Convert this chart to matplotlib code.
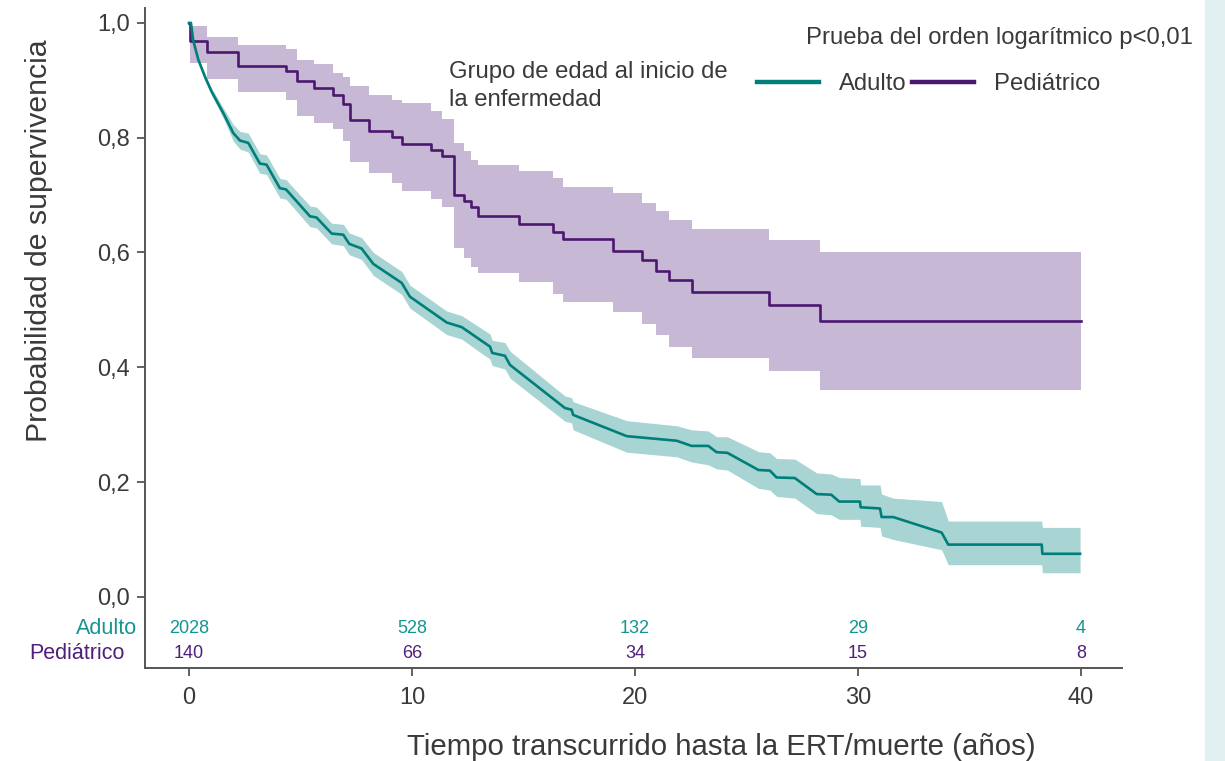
import matplotlib
matplotlib.use('Agg')
import matplotlib.pyplot as plt
from matplotlib.lines import Line2D
from matplotlib.patches import Rectangle
from matplotlib.ticker import FuncFormatter

plt.rcParams['font.family'] = ['Liberation Sans', 'DejaVu Sans']

# Curva pediátrica (Kaplan-Meier, escalones) con IC
ped_t = [0.0, 0.05, 0.8, 2.2, 4.35, 4.86, 5.6, 6.47, 6.92, 7.22, 8.07, 9.1, 9.54,
         10.84, 11.37, 11.9, 12.35, 12.63, 12.95, 14.8, 16.34, 16.79, 19.03,
         20.33, 20.94, 21.54, 22.58, 26.0, 28.3, 40.0]
ped_s = [1.0, 0.969, 0.949, 0.925, 0.917, 0.899, 0.887, 0.875, 0.859, 0.831, 0.812,
         0.801, 0.789, 0.779, 0.768, 0.701, 0.690, 0.679, 0.664, 0.650, 0.635,
         0.624, 0.603, 0.587, 0.567, 0.552, 0.532, 0.509, 0.480, 0.480]
ped_up = [1.0, 0.994, 0.976, 0.962, 0.954, 0.935, 0.929, 0.913, 0.906, 0.890, 0.875,
          0.866, 0.860, 0.846, 0.833, 0.790, 0.776, 0.761, 0.753, 0.742, 0.729,
          0.714, 0.703, 0.687, 0.672, 0.656, 0.641, 0.621, 0.600, 0.600]
ped_lo = [1.0, 0.930, 0.902, 0.880, 0.865, 0.838, 0.826, 0.815, 0.795, 0.758, 0.738,
          0.721, 0.707, 0.694, 0.680, 0.608, 0.590, 0.575, 0.564, 0.548, 0.528,
          0.514, 0.497, 0.476, 0.456, 0.436, 0.416, 0.393, 0.361, 0.361]

# Curva adulta con IC
adu_t = [0.0, 0.09, 0.19, 0.42, 0.72, 1.02, 1.54, 1.99, 2.29, 2.66, 3.18, 3.48, 4.08,
         4.35, 5.43, 5.72, 6.40, 6.92, 7.19, 7.74, 8.27, 9.54, 9.91, 11.56, 12.23,
         13.50, 13.60, 14.17, 14.40, 16.86, 17.16, 17.23, 19.63, 21.87, 22.54,
         23.29, 23.66, 24.14, 25.54, 26.05, 26.35, 27.17, 28.15, 28.80, 29.16,
         30.09, 30.12, 30.99, 31.06, 31.58, 33.75, 34.05, 38.24, 38.27, 39.96]
adu_s = [1.0, 1.0, 0.970, 0.936, 0.906, 0.880, 0.843, 0.808, 0.795, 0.791, 0.755,
         0.753, 0.712, 0.710, 0.663, 0.661, 0.633, 0.631, 0.615, 0.607, 0.580,
         0.547, 0.523, 0.478, 0.470, 0.436, 0.425, 0.420, 0.404, 0.329, 0.326,
         0.317, 0.280, 0.272, 0.263, 0.263, 0.252, 0.251, 0.221, 0.220, 0.208,
         0.207, 0.179, 0.178, 0.166, 0.166, 0.156, 0.154, 0.139, 0.139, 0.112,
         0.091, 0.091, 0.075, 0.075]
adu_up = [1.0, 1.0, 0.972, 0.940, 0.911, 0.886, 0.852, 0.823, 0.811, 0.808, 0.772,
          0.770, 0.729, 0.727, 0.681, 0.679, 0.651, 0.649, 0.634, 0.626, 0.600,
          0.567, 0.543, 0.498, 0.490, 0.458, 0.447, 0.443, 0.428, 0.350, 0.347,
          0.340, 0.307, 0.298, 0.291, 0.289, 0.279, 0.279, 0.253, 0.251, 0.241,
          0.240, 0.216, 0.214, 0.208, 0.206, 0.195, 0.195, 0.179, 0.172, 0.166,
          0.132, 0.132, 0.121, 0.121]
adu_lo = [1.0, 1.0, 0.968, 0.932, 0.901, 0.874, 0.834, 0.794, 0.780, 0.775, 0.738,
          0.736, 0.695, 0.693, 0.645, 0.643, 0.615, 0.612, 0.596, 0.588, 0.560,
          0.527, 0.503, 0.457, 0.449, 0.414, 0.403, 0.397, 0.381, 0.306, 0.303,
          0.291, 0.252, 0.244, 0.235, 0.230, 0.223, 0.221, 0.189, 0.186, 0.175,
          0.172, 0.145, 0.143, 0.135, 0.135, 0.123, 0.121, 0.106, 0.100, 0.082,
          0.056, 0.056, 0.042, 0.042]

# Número en riesgo
risk_t = [0, 10, 20, 30, 40]
risk_adulto = ['2028', '528', '132', '29', '4']
risk_ped = ['140', '66', '34', '15', '8']

teal = '#007f7a'
teal_band = '#a8d4d4'
teal_txt = '#14958f'
purple = '#4b176f'
purple_band = '#c7b8d5'
purple_txt = '#4f1f7a'
txt = '#3a3a3a'
spine = '#555555'

fig = plt.figure(figsize=(12.25, 7.61), dpi=100)
fig.patches.append(Rectangle((1205 / 1225, 0), 20 / 1225, 1, transform=fig.transFigure,
                             color='#e1f0f0', zorder=0))
ax = fig.add_axes([145 / 1225, 1 - 668 / 761, 977 / 1225, 660 / 761])

ax.fill_between(ped_t, ped_lo, ped_up, step='post', color=purple_band, lw=0)
ax.fill_between(adu_t, adu_lo, adu_up, color=teal_band, lw=0)
ax.step(ped_t, ped_s, where='post', color=purple, lw=1.9)
ax.plot(adu_t, adu_s, color=teal, lw=1.9)

ax.set_xlim(-1.97, 41.84)
ax.set_ylim(-0.124, 1.026)
ax.set_xticks([0, 10, 20, 30, 40])
ax.set_yticks([0, 0.2, 0.4, 0.6, 0.8, 1.0])
ax.yaxis.set_major_formatter(FuncFormatter(lambda v, p: f'{v:.1f}'.replace('.', ',')))
ax.tick_params(labelsize=17, colors=txt, length=6, width=1.3, color=spine)
ax.tick_params(axis='y', pad=5)
ax.tick_params(axis='x', pad=7.5)
for s in ['top', 'right']:
    ax.spines[s].set_visible(False)
for s in ['left', 'bottom']:
    ax.spines[s].set_color(spine)
    ax.spines[s].set_linewidth(1.4)

ax.set_ylabel('Probabilidad de supervivencia', fontsize=21.8, color=txt)
ax.yaxis.set_label_coords(-0.094, 0.647)
ax.set_xlabel('Tiempo transcurrido hasta la ERT/muerte (años)', fontsize=21.2, color=txt)
ax.xaxis.set_label_coords(0.5896, -0.0985)

# tabla de número en riesgo
tr = ax.get_yaxis_transform()
ax.text(-0.0082, -0.055, 'Adulto', transform=tr, ha='right', va='center',
        fontsize=15.5, color=teal_txt)
ax.text(-0.0205, -0.099, 'Pediátrico', transform=tr, ha='right', va='center',
        fontsize=15.5, color=purple_txt)
for x, a, p in zip(risk_t, risk_adulto, risk_ped):
    ax.text(x, -0.055, a, ha='center', va='center', fontsize=13, color=teal_txt)
    ax.text(x, -0.099, p, ha='center', va='center', fontsize=13, color=purple_txt)

# leyenda
fig.text(806 / 1225, 1 - 38 / 761, 'Prueba del orden logarítmico p<0,01',
         ha='left', va='center', fontsize=17.2, color=txt)
fig.text(449 / 1225, 1 - 86 / 761, 'Grupo de edad al inicio de\nla enfermedad',
         ha='left', va='center', fontsize=17.2, color=txt, linespacing=1.3)
handles = [Line2D([], [], color=teal, lw=3.2), Line2D([], [], color=purple, lw=3.2)]
leg = fig.legend(handles, ['Adulto', 'Pediátrico'], ncol=2, frameon=False,
                 loc='center left', bbox_to_anchor=(757 / 1225, 1 - 84 / 761),
                 fontsize=17.2, handlelength=2.6, handletextpad=0.85,
                 columnspacing=0.2, borderpad=0, borderaxespad=0)
for t in leg.get_texts():
    t.set_color(txt)

fig.savefig('out.png', dpi=100)
